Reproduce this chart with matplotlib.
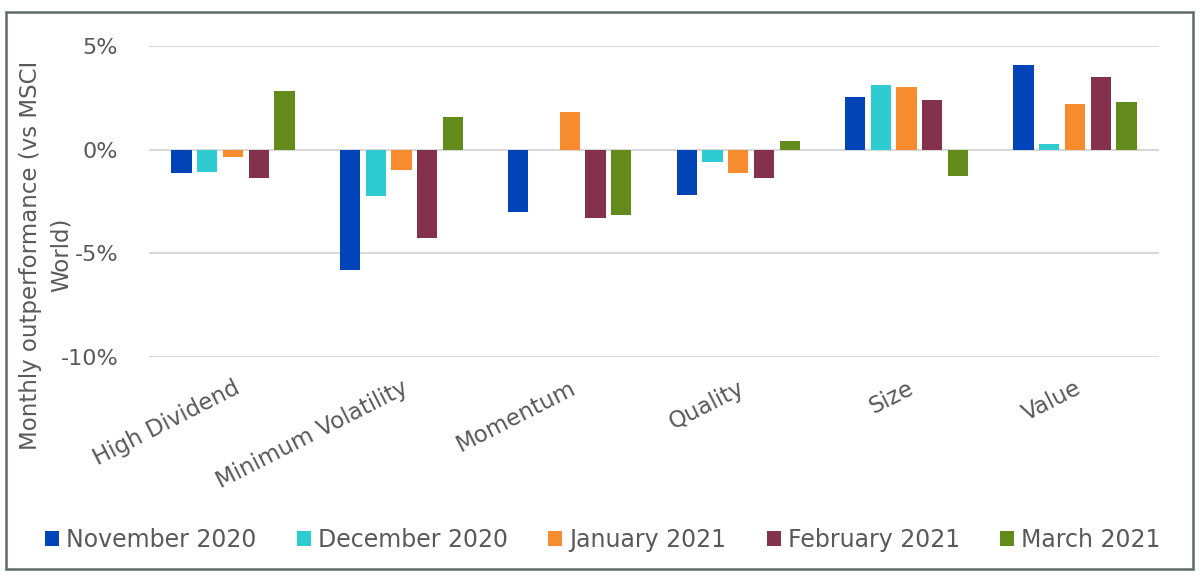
import numpy as np
import matplotlib.pyplot as plt
from matplotlib.patches import Rectangle

# Данные графика
categories = ['High Dividend', 'Minimum Volatility', 'Momentum', 'Quality', 'Size', 'Value']
months = ['November 2020', 'December 2020', 'January 2021', 'February 2021', 'March 2021']

nov_2020 = [-1.1, -5.8, -2.98, -2.17, 2.53, 4.07]
dec_2020 = [-1.05, -2.22, 0.0, -0.58, 3.13, 0.3]
jan_2021 = [-0.34, -0.98, 1.8, -1.14, 3.04, 2.21]
feb_2021 = [-1.34, -4.24, -3.27, -1.37, 2.42, 3.49]
mar_2021 = [2.82, 1.56, -3.14, 0.43, -1.27, 2.3]

y_ticks = [-10, -5, 0, 5]
y_tick_labels = ['-10%', '-5%', '0%', '5%']

colors = ['#0044b8', '#2ecbd0', '#f68c2e', '#83314c', '#638b1b']
text_color = '#595959'

plt.rcParams['font.family'] = ['DejaVu Sans']

fig = plt.figure(figsize=(12, 5.76), dpi=100)
ax = fig.add_axes([0.124, 0.380, 0.842, 0.540])

series = [nov_2020, dec_2020, jan_2021, feb_2021, mar_2021]
x = np.arange(len(categories))
pitch = 0.153
bar_width = 0.12

for i, values in enumerate(series):
    offset = (i - 2) * pitch
    ax.bar(x + offset, values, width=bar_width, color=colors[i], label=months[i], zorder=3)

ax.set_xlim(-0.5, len(categories) - 0.5)
ax.set_ylim(-10, 5)
ax.set_yticks(y_ticks)
ax.set_yticklabels(y_tick_labels, fontsize=16, color=text_color)
ax.tick_params(axis='y', length=0, pad=22)
ax.tick_params(axis='x', length=0, pad=14)
ax.set_xticks(x)
ax.set_xticklabels(categories, rotation=27, ha='right', rotation_mode='anchor',
                   fontsize=16.5, color=text_color)

ax.grid(axis='y', color='#d9d9d9', linewidth=1.5, zorder=0)
for spine in ax.spines.values():
    spine.set_visible(False)

# подпись оси Y в две строки, как в оригинале
fig.text(31 / 1200, 0.557, 'Monthly outperformance (vs MSCI', rotation=90,
         ha='center', va='center', fontsize=16.5, color=text_color)
fig.text(61 / 1200, 0.557, 'World)', rotation=90,
         ha='center', va='center', fontsize=16.5, color=text_color)

fig.legend(loc='center', bbox_to_anchor=(0.5025, 0.0625), ncol=5, frameon=False,
           fontsize=17, labelcolor=text_color, handlelength=0.6, handleheight=0.6,
           handletextpad=0.3, columnspacing=1.7)

border = Rectangle((6 / 1200, 1 - 569 / 576), 1187 / 1200, 557 / 576, transform=fig.transFigure,
                   fill=False, edgecolor='#5f6b6b', linewidth=1.8)
fig.patches.append(border)

fig.savefig('out.png', dpi=100)
